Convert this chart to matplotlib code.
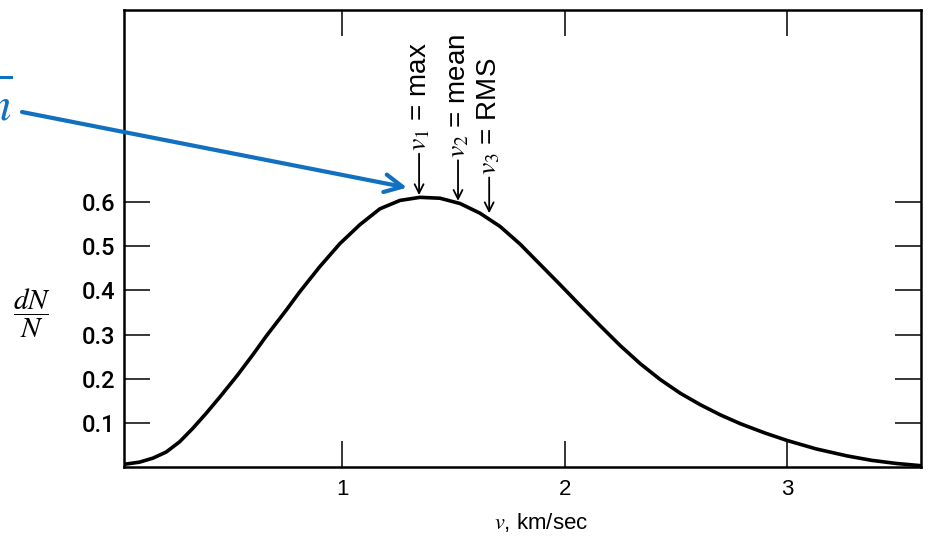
import matplotlib.pyplot as plt
from matplotlib.lines import Line2D

plt.rcParams['mathtext.fontset'] = 'stix'

# speed (km/sec) and dN/N
speed = [0.02, 0.09, 0.15, 0.21, 0.27, 0.33, 0.39, 0.45, 0.53, 0.60, 0.66,
         0.75, 0.81, 0.90, 0.99, 1.08, 1.17, 1.26, 1.35, 1.44, 1.53, 1.62,
         1.71, 1.80, 1.89, 1.98, 2.07, 2.16, 2.25, 2.34, 2.43, 2.52, 2.61,
         2.70, 2.79, 2.90, 3.00, 3.13, 3.27, 3.38, 3.49, 3.60]
fraction = [0.006, 0.011, 0.02, 0.034, 0.057, 0.088, 0.122, 0.158, 0.208, 0.255, 0.297,
            0.356, 0.397, 0.454, 0.506, 0.549, 0.585, 0.604, 0.611, 0.609, 0.597, 0.575,
            0.545, 0.505, 0.459, 0.413, 0.366, 0.32, 0.275, 0.234, 0.198, 0.167, 0.141,
            0.118, 0.098, 0.077, 0.06, 0.041, 0.025, 0.015, 0.008, 0.003]

x_ticks = [1, 2, 3]
y_ticks = [0.1, 0.2, 0.3, 0.4, 0.5, 0.6]

# marked speeds: v1 = max, v2 = mean, v3 = RMS
marker_v = [1.346, 1.521, 1.661]
marker_tip = [0.616, 0.603, 0.575]
marker_tail = [0.71, 0.695, 0.656]
marker_text = [r'$v_1$ = max', r'$v_2$ = mean', r'$v_3$ = RMS']

blue = '#1170c0'

fig = plt.figure(figsize=(9.3, 5.38), dpi=100)
ax = fig.add_axes([0.1333, 0.132, 0.8567, 0.849])

ax.plot(speed, fraction, color='black', lw=2.6, solid_capstyle='round',
        solid_joinstyle='round')
ax.set_xlim(0.02, 3.6)
ax.set_ylim(0, 1.035)

for s in ax.spines.values():
    s.set_linewidth(1.8)

ax.set_xticks(x_ticks)
ax.set_xticklabels([str(t) for t in x_ticks], family='Liberation Sans', fontsize=16)
ax.set_yticks(y_ticks)
ax.set_yticklabels([f'{t:.1f}' for t in y_ticks], family='Roboto', weight='medium', fontsize=17)
ax.tick_params(axis='x', direction='in', length=19, width=1.1, top=True, pad=9)
ax.tick_params(axis='y', direction='in', length=19, width=1.1, right=True, pad=6)

for v, tip, tail, txt in zip(marker_v, marker_tip, marker_tail, marker_text):
    ax.annotate('', xy=(v, tip), xytext=(v, tail),
                arrowprops=dict(arrowstyle='->', lw=1.3, color='black',
                                mutation_scale=16, shrinkA=0, shrinkB=0))
    ax.text(v, tail + 0.005, txt, rotation=90, ha='center', va='bottom',
            fontsize=20, family='Liberation Sans')

fig.text(541 / 930, 1 - 522 / 538, r'$v$, km/sec', ha='center', va='center',
         fontsize=16, family='Liberation Sans')
fig.text(32 / 930, 1 - 313 / 538, r'$\dfrac{dN}{N}$', ha='center', va='center',
         fontsize=21)

# blue pointer from the cut-off note on the left
ax.annotate('', xy=(1.292, 0.633), xycoords='data',
            xytext=(22, 538 - 112), textcoords='figure pixels',
            annotation_clip=False,
            arrowprops=dict(arrowstyle='->', lw=3, color=blue,
                            mutation_scale=32, shrinkA=0, shrinkB=0))
fig.text(-0.014, 1 - 120 / 538, r'$n$', color=blue, fontsize=34,
         ha='left', va='baseline')
fig.add_artist(Line2D([0, 11 / 930], [1 - 77 / 538] * 2, color=blue, lw=2.2))

fig.savefig('out.png', dpi=100)
